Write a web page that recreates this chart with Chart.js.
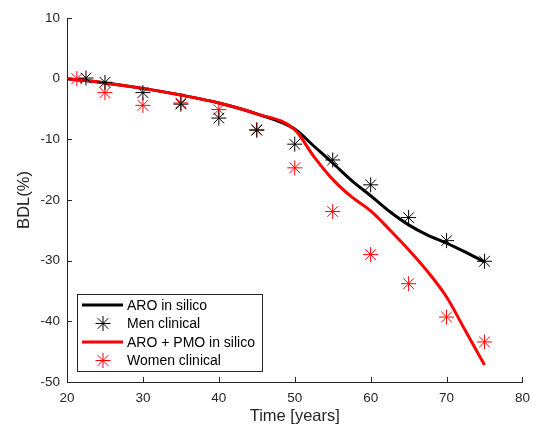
<!DOCTYPE html>
<html>
<head>
<meta charset="utf-8">
<script src="https://cdn.jsdelivr.net/npm/chart.js@4/dist/chart.umd.min.js"></script>
<style>
  html, body { margin: 0; padding: 0; background: #fff; }
  #wrap { width: 538px; height: 428px; }
</style>
</head>
<body>
<div id="wrap"><canvas id="bdlChart"></canvas></div>
<script>
// simulation curves
const simAge = [20, 25, 30, 35, 40, 45, 50, 52.5, 55, 57.5, 60, 62.5, 65, 67.5, 70, 72.5, 75];
const aroSilico = [0, -0.7, -1.6, -2.7, -4.0, -5.8, -8.3, -11.1, -13.9, -16.8, -19.3, -21.9, -24.1, -25.8, -27.1, -28.6, -30.2];
const aroPmoSilico = [0, -0.7, -1.6, -2.7, -4.0, -5.8, -8.4, -12.8, -16.6, -19.5, -21.8, -24.9, -28.2, -31.8, -36.0, -41.6, -47.2];

// clinical data
const menAge = [22.5, 25, 30, 35, 40, 45, 50, 55, 60, 65, 70, 75];
const menBDL = [0.1, -0.6, -2.3, -4.2, -6.5, -8.5, -10.8, -13.4, -17.5, -22.9, -26.7, -30.1];
const womenAge = [21.3, 25, 30, 35, 40, 45, 50, 55, 60, 65, 70, 75];
const womenBDL = [0, -2.3, -4.4, -4.0, -5.1, -8.4, -14.7, -21.9, -29.0, -33.8, -39.3, -43.4];

const xTicks = [20, 30, 40, 50, 60, 70, 80];
const yTicks = [-50, -40, -30, -20, -10, 0, 10];

const toPts = (xs, ys) => xs.map((x, i) => ({ x: x, y: ys[i] }));
const axisColor = '#262626';
const fontFam = '"Liberation Sans", Arial, sans-serif';

// MATLAB style inward ticks
const inwardTicks = {
   id: 'inwardTicks',
   afterDraw(chart) {
      const c = chart.ctx;
      const xs = chart.scales.x, ys = chart.scales.y;
      const a = chart.chartArea;
      c.save();
      c.strokeStyle = axisColor;
      c.lineWidth = 1;
      c.beginPath();
      xTicks.forEach(t => {
         const px = Math.round(xs.getPixelForValue(t)) + 0.5;
         c.moveTo(px, a.bottom);
         c.lineTo(px, a.bottom - 5);
      });
      yTicks.forEach(t => {
         const py = Math.round(ys.getPixelForValue(t)) + 0.5;
         c.moveTo(a.left, py);
         c.lineTo(a.left + 5, py);
      });
      c.stroke();
      c.restore();
   }
};

// legend box inside the plot, lower left
const boxLegend = {
   id: 'boxLegend',
   afterDraw(chart) {
      const c = chart.ctx;
      const a = chart.chartArea;
      const left = a.left + 10, top = a.bottom - 88, w = 185, h = 77;
      c.save();
      c.fillStyle = '#fff';
      c.fillRect(left, top, w, h);
      c.strokeStyle = '#262626';
      c.lineWidth = 1;
      c.strokeRect(left + 0.5, top + 0.5, w, h);
      c.font = '14px ' + fontFam;
      c.textBaseline = 'middle';
      c.textAlign = 'left';
      chart.data.datasets.forEach((ds, i) => {
         const y = top + 11 + i * 18.5;
         if (ds.showLine === false) {
            c.strokeStyle = ds.borderColor;
            c.lineWidth = 1;
            Chart.helpers.drawPoint(c, { pointStyle: 'star', radius: 7.5, borderWidth: 1 }, left + 26, y);
         } else {
            c.strokeStyle = ds.borderColor;
            c.lineWidth = 3;
            c.beginPath();
            c.moveTo(left + 5, y);
            c.lineTo(left + 46, y);
            c.stroke();
         }
         c.fillStyle = '#000';
         c.fillText(ds.label, left + 50, y + 1);
      });
      c.restore();
   }
};

const ctx = document.getElementById('bdlChart').getContext('2d');

new Chart(ctx, {
   type: 'scatter',
   data: {
      datasets: [{
         label: 'ARO in silico',
         data: toPts(simAge, aroSilico),
         showLine: true,
         borderColor: '#000000',
         backgroundColor: '#000000',
         borderWidth: 3,
         pointRadius: 0,
         cubicInterpolationMode: 'monotone',
         order: 2
      }, {
         label: 'Men clinical',
         data: toPts(menAge, menBDL),
         showLine: false,
         borderColor: '#000000',
         backgroundColor: '#000000',
         pointStyle: 'star',
         pointRadius: 7.5,
         pointBorderWidth: 1,
         order: 0
      }, {
         label: 'ARO + PMO in silico',
         data: toPts(simAge, aroPmoSilico),
         showLine: true,
         borderColor: '#ff0000',
         backgroundColor: '#ff0000',
         borderWidth: 3,
         pointRadius: 0,
         cubicInterpolationMode: 'monotone',
         order: 1
      }, {
         label: 'Women clinical',
         data: toPts(womenAge, womenBDL),
         showLine: false,
         borderColor: '#ff0000',
         backgroundColor: '#ff0000',
         pointStyle: 'star',
         pointRadius: 7.5,
         pointBorderWidth: 1,
         order: 0
      }]
   },
   options: {
      responsive: true,
      maintainAspectRatio: false,
      animation: false,
      layout: { padding: { top: 18, right: 11, left: 0, bottom: 0 } },
      plugins: {
         legend: { display: false },
         tooltip: { enabled: false }
      },
      scales: {
         x: {
            type: 'linear',
            min: 20,
            max: 80,
            afterFit: s => { s.height = 46; },
            afterBuildTicks: s => { s.ticks = xTicks.map(v => ({ value: v })); },
            grid: { display: false, drawTicks: false },
            border: { display: true, color: axisColor, width: 1 },
            ticks: {
               color: axisColor,
               padding: 8,
               maxRotation: 0,
               font: { family: fontFam, size: 13.5 }
            },
            title: {
               display: true,
               text: 'Time [years]',
               color: axisColor,
               padding: { top: 0, bottom: 2 },
               font: { family: fontFam, size: 16.5 }
            }
         },
         y: {
            type: 'linear',
            min: -50,
            max: 10,
            afterFit: s => { s.width = 67; },
            afterBuildTicks: s => { s.ticks = yTicks.map(v => ({ value: v })); },
            grid: { display: false, drawTicks: false },
            border: { display: true, color: axisColor, width: 1 },
            ticks: {
               color: axisColor,
               padding: 7,
               font: { family: fontFam, size: 13.5 }
            },
            title: {
               display: true,
               text: 'BDL(%)',
               color: axisColor,
               padding: { top: 15, bottom: 0 },
               font: { family: fontFam, size: 16.5 }
            }
         }
      }
   },
   plugins: [inwardTicks, boxLegend]
});
</script>
</body>
</html>
